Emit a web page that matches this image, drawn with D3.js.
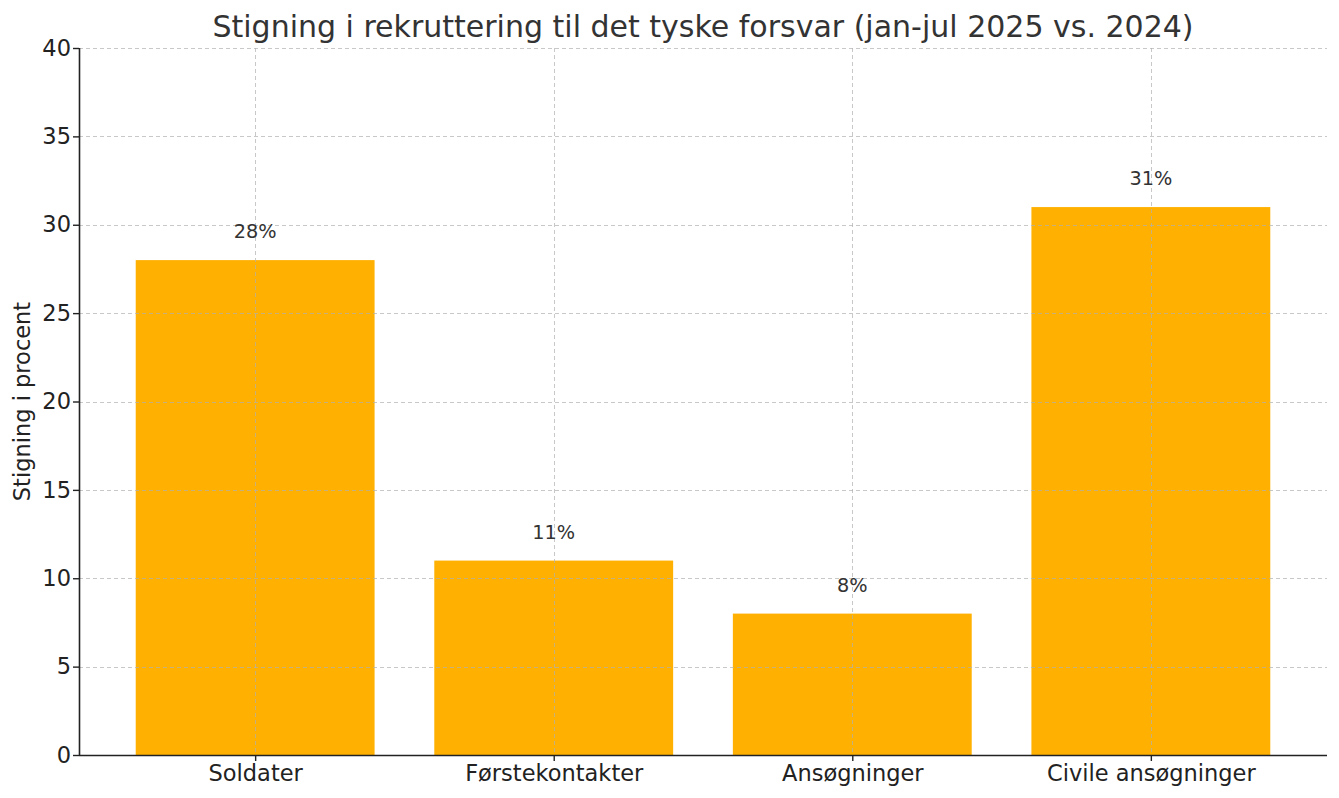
<!DOCTYPE html>
<html><head><meta charset="utf-8">
<script src="https://cdn.jsdelivr.net/npm/d3@7"></script>
<style>body{margin:0;background:#fff;} text{font-family:"DejaVu Sans",sans-serif;}</style>
</head><body>
<svg id="c" width="1339" height="798"></svg>
<script>
const categories = ["Soldater", "Førstekontakter", "Ansøgninger", "Civile ansøgninger"];
const values = [28, 11, 8, 31];
const barLabels = ["28%", "11%", "8%", "31%"];
const yTicks = [0, 5, 10, 15, 20, 25, 30, 35, 40];
const title = "Stigning i rekruttering til det tyske forsvar (jan-jul 2025 vs. 2024)";
const yLabel = "Stigning i procent";

const svg = d3.select("#c");
const L = 79, R = 1327, T = 48, B = 755;
const x = d3.scaleLinear().domain([-0.59, 3.59]).range([L, R]);
const y = d3.scaleLinear().domain([0, 40]).range([B, T]);
const bw = x(0.8) - x(0);

svg.selectAll("rect.bar").data(values).enter().append("rect")
  .attr("x", (d, i) => x(i) - bw / 2).attr("width", bw)
  .attr("y", d => y(d)).attr("height", d => y(0) - y(d))
  .attr("fill", "#FFB000");

// grid on top
const g = svg.append("g").attr("stroke", "#b0b0b0").attr("stroke-opacity", 0.7)
  .attr("stroke-dasharray", "4,3").attr("stroke-width", 1);
g.selectAll("line.h").data(yTicks).enter().append("line")
  .attr("x1", L).attr("x2", R).attr("y1", d => Math.round(y(d)) + 0.5).attr("y2", d => Math.round(y(d)) + 0.5);
g.selectAll("line.v").data(categories).enter().append("line")
  .attr("y1", T).attr("y2", B).attr("x1", (d, i) => Math.round(x(i)) + 0.5).attr("x2", (d, i) => Math.round(x(i)) + 0.5);

// axes
const yAxis = d3.axisLeft(y).tickValues(yTicks).tickSize(6).tickPadding(2);
const ya = svg.append("g").attr("transform", `translate(${L},0)`).call(yAxis);
const xAxis = d3.axisBottom(x).tickValues(d3.range(categories.length)).tickFormat(i => categories[i]).tickSize(6).tickPadding(4);
const xa = svg.append("g").attr("transform", `translate(0,${B})`).call(xAxis);
[ya, xa].forEach(a => {
  a.select(".domain").attr("stroke", "#222").attr("stroke-width", 1.6);
  a.selectAll(".tick line").attr("stroke", "#222").attr("stroke-width", 1.4);
  a.selectAll(".tick text").attr("fill", "#222").style("font-size", "22.5px").style("font-family", "DejaVu Sans");
});
ya.select(".domain").attr("d", `M0.5,${T}V${B}`);
xa.select(".domain").attr("d", `M${L},0.5H${R}`);

// bar labels
svg.selectAll("text.lab").data(values).enter().append("text")
  .attr("x", (d, i) => x(i)).attr("y", d => y(d + 1) - 4)
  .attr("text-anchor", "middle").attr("fill", "#333").style("font-size", "19.3px")
  .text((d, i) => barLabels[i]);

svg.append("text").attr("x", (L + R) / 2).attr("y", 37).attr("text-anchor", "middle")
  .attr("fill", "#333").style("font-size", "30px").text(title);

svg.append("text").attr("transform", `translate(30,${(T + B) / 2}) rotate(-90)`)
  .attr("text-anchor", "middle").attr("fill", "#222").style("font-size", "22.5px").text(yLabel);
</script>
</body></html>
